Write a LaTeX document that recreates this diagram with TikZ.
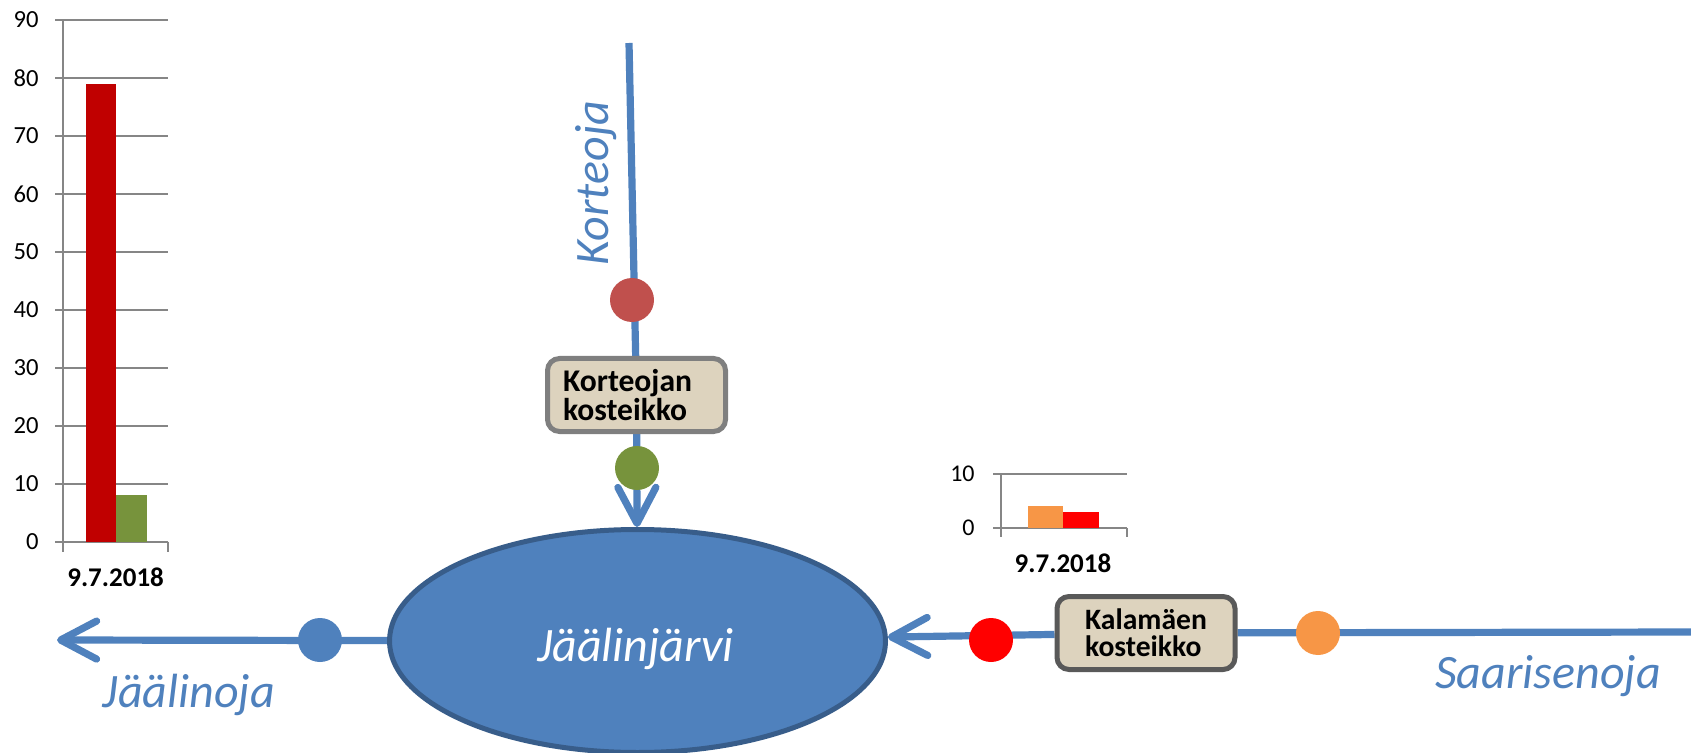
\documentclass[tikz,border=0pt]{standalone}
\usepackage{fontspec}
\setmainfont{Carlito}
\usetikzlibrary{arrows.meta,shapes.geometric}
\pgfdeclarelayer{bg}
\pgfsetlayers{bg,main}
\definecolor{riverblue}{RGB}{79,129,189}
\definecolor{lakeedge}{RGB}{56,93,138}
\definecolor{dotred}{RGB}{192,80,77}
\definecolor{dotgreen}{RGB}{119,147,60}
\definecolor{dotorange}{RGB}{247,150,70}
\definecolor{barred}{RGB}{192,0,0}
\definecolor{gridgray}{RGB}{134,134,134}
\definecolor{burlap}{RGB}{221,211,190}
\definecolor{boxgray}{RGB}{127,127,127}
\definecolor{boxdark}{RGB}{89,89,89}
\begin{document}
\begin{tikzpicture}[x=0.5pt,y=-0.5pt,
  river/.style={draw=riverblue,line width=3.6pt},
  flowtip/.style={-{Straight Barb[length=18pt,width=19pt,round]}},
  dot/.style={circle,inner sep=0pt,minimum size=22pt},
  wetbox/.style={draw=boxgray,line width=2.5pt,rounded corners=6pt,fill=burlap,
    minimum width=89pt,minimum height=36.5pt,inner sep=0pt,align=left,
    font=\bfseries\fontsize{15.8}{14.5}\selectfont},
  lake/.style={ellipse,draw=lakeedge,fill=riverblue,line width=2.5pt,
    minimum width=248pt,minimum height=111.5pt,inner sep=0pt},
  rivername/.style={text=riverblue,font=\itshape\fontsize{24}{28}\selectfont,inner sep=0pt},
  gridline/.style={draw=gridgray,line width=1pt},
  ticklabel/.style={font=\fontsize{12.3}{14}\selectfont,anchor=east,inner sep=0pt},
  datelabel/.style={font=\bfseries\fontsize{13.5}{16}\selectfont,inner sep=0pt}
]
\useasboundingbox (0,0) rectangle (1691,753);

% lake and wetlands
\node[lake] (lake) at (637.5,641) {};
\node[rivername,text=white,anchor=base] (lakename) at (635.5,661) {Jäälinjärvi};
\node[wetbox,text width=73.5pt,inner xsep=7.75pt] (kbox) at (636.5,395) {Korteojan\\kosteikko};
\node[wetbox,draw=boxdark,font=\bfseries\fontsize{14.8}{13.5}\selectfont] (kalbox) at (1146,633) {Kalamäen\\kosteikko};

% sampling points
\node[dot,fill=dotred] (kred) at (632,300) {};
\node[dot,fill=dotgreen] (kgreen) at (637,468) {};
\node[dot,fill=red] (kalred) at (991,640) {};
\node[dot,fill=dotorange] (kalorange) at (1318,633) {};
\node[dot,fill=riverblue] (jblue) at (320,640) {};

\coordinate (kstart) at (629,43);
\coordinate (send) at (1691,632);
\coordinate (jend) at (57,640);

\begin{pgfonlayer}{bg}
\draw[river] (kstart) -- (kbox);
\draw[river,flowtip] (kbox) -- (lake);
\draw[river] (send) -- (kalbox);
\draw[river,flowtip] (kalbox) -- (lake);
\draw[river,flowtip] (lake) -- (jend);
\end{pgfonlayer}

% river names
\node[rivername,rotate=90,anchor=base] (korteoja) at (608,183) {Korteoja};
\node[rivername,anchor=base] (jaalinoja) at (189,707) {Jäälinoja};
\node[rivername,anchor=base] (saarisenoja) at (1548,688) {Saarisenoja};

% left chart
\foreach \v in {0,10,...,90} {
  \pgfmathsetmacro\yy{541.7-5.797*\v}
  \draw[gridline] (55,\yy) -- (168,\yy);
  \node[ticklabel] (lt\v) at (39,\yy) {\v};
}
\draw[gridline] (63,20) -- (63,551.7);
\draw[gridline] (168,541.7) -- (168,551.7);
\fill[barred] (86,541.7) rectangle (116,83.7);
\fill[dotgreen] (116,541.7) rectangle (147,495.3);
\node[datelabel] (ldate) at (115.6,577.5) {9.7.2018};

% small chart
\foreach \v in {0,10} {
  \pgfmathsetmacro\yy{528-5.4*\v}
  \draw[gridline] (993,\yy) -- (1127,\yy);
  \node[ticklabel,font=\fontsize{12}{14}\selectfont] (st\v) at (975,\yy) {\v};
}
\draw[gridline] (1001,474) -- (1001,537);
\draw[gridline] (1127,528) -- (1127,537);
\fill[dotorange] (1028,528) rectangle (1063,506.4);
\fill[red] (1063,528) rectangle (1099,511.8);
\node[datelabel] (sdate) at (1063,563) {9.7.2018};
\end{tikzpicture}
\end{document}
